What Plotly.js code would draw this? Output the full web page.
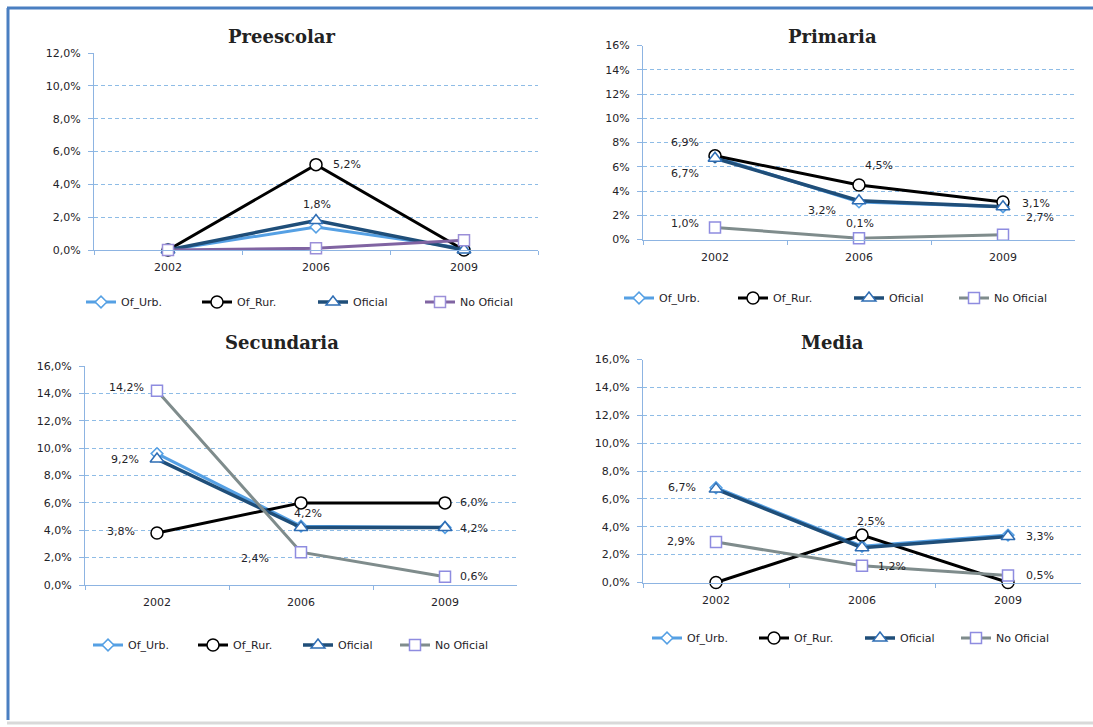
<!DOCTYPE html>
<html>
<head>
<meta charset="utf-8">
<script src="https://cdn.plot.ly/plotly-3.0.1.min.js"></script>
<style>
  html, body { margin: 0; padding: 0; background: #ffffff; }
  #chart { width: 1093px; height: 727px; }
</style>
</head>
<body>
<div id="chart"></div>
<script>
// Categories and series
const years = ['2002', '2006', '2009'];
const seriesNames = ['Of_Urb.', 'Of_Rur.', 'Oficial', 'No Oficial'];

// Preescolar (%)
const preescolarOfUrb = [0.0, 1.4, 0.1];
const preescolarOfRur = [0.0, 5.2, 0.0];
const preescolarOficial = [0.0, 1.8, 0.0];
const preescolarNoOficial = [0.0, 0.1, 0.6];

// Primaria (%)
const primariaOfUrb = [6.8, 3.1, 2.7];
const primariaOfRur = [6.9, 4.5, 3.1];
const primariaOficial = [6.7, 3.2, 2.7];
const primariaNoOficial = [1.0, 0.1, 0.4];

// Secundaria (%)
const secundariaOfUrb = [9.6, 4.3, 4.2];
const secundariaOfRur = [3.8, 6.0, 6.0];
const secundariaOficial = [9.2, 4.2, 4.2];
const secundariaNoOficial = [14.2, 2.4, 0.6];

// Media (%)
const mediaOfUrb = [6.8, 2.6, 3.4];
const mediaOfRur = [0.0, 3.4, 0.0];
const mediaOficial = [6.7, 2.5, 3.3];
const mediaNoOficial = [2.9, 1.2, 0.5];

// Y axis tick setup per panel
const preescolarTicks = { max: 12, step: 2, format: '.1f' };
const primariaTicks = { max: 16, step: 2, format: '.0f' };
const secundariaTicks = { max: 16, step: 2, format: '.1f' };
const mediaTicks = { max: 16, step: 2, format: '.1f' };

const W = 1093, H = 727;
const FONT = 'DejaVu Sans, Verdana, sans-serif';
const TEXT = '#1f2328';
const AXIS = '#8DB4E2';
const GRID = '#8EBCE6';

// Series styles (Of_Urb., Of_Rur., Oficial, No Oficial)
function seriesStyle(k, purple) {
  const s = [
    { line: { color: '#55A0E4', width: 3 },
      marker: { symbol: 'diamond', size: 9, color: '#ffffff', line: { color: '#55A0E4', width: 1.5 } } },
    { line: { color: '#000000', width: 3 },
      marker: { symbol: 'circle', size: 12, color: '#ffffff', line: { color: '#000000', width: 1.5 } } },
    { line: { color: '#1F4E79', width: 3.5 },
      marker: { symbol: 'triangle-up', size: 12, color: '#ffffff', line: { color: '#2E6DB4', width: 1.5 } } },
    { line: { color: purple ? '#8064A2' : '#7F8C8C', width: 3 },
      marker: { symbol: 'square', size: 11, color: '#ffffff', line: { color: purple ? '#9B8FD8' : '#8E8CE0', width: 1.5 } } }
  ];
  return s[k];
}

// Panels: plot box in pixels, legend placement and data-label offsets
const panels = [
  {
    title: 'Preescolar', ax: '', titlePos: [282, 37],
    series: [preescolarOfUrb, preescolarOfRur, preescolarOficial, preescolarNoOficial],
    ticks: preescolarTicks, purple: true,
    box: { x0: 94, x1: 538, yBottom: 250, yTop: 53 },
    legend: { left: 81, cy: 302, widths: [71, 71, 62, 60] },
    labels: [[1, 1, 31, 0], [2, 1, 1, 16]]
  },
  {
    title: 'Primaria', ax: '2', titlePos: [832, 37],
    series: [primariaOfUrb, primariaOfRur, primariaOficial, primariaNoOficial],
    ticks: primariaTicks, purple: false,
    box: { x0: 643, x1: 1075, yBottom: 239.5, yTop: 45.5 },
    legend: { left: 619, cy: 298, widths: [69, 71, 60, 60] },
    labels: [[1, 0, -30, 13], [2, 0, -30, -15], [1, 1, 20, 19], [2, 1, -37, -10],
             [3, 1, 1, 15], [3, 0, -30, 4], [1, 2, 33, -2], [2, 2, 37, -11]]
  },
  {
    title: 'Secundaria', ax: '3', titlePos: [282, 343],
    series: [secundariaOfUrb, secundariaOfRur, secundariaOficial, secundariaNoOficial],
    ticks: secundariaTicks, purple: false,
    box: { x0: 85, x1: 517, yBottom: 585, yTop: 366 },
    legend: { left: 88, cy: 645, widths: [60, 60, 52, 60] },
    labels: [[3, 0, -31, 3], [2, 0, -32, 0], [1, 0, -36, 1], [2, 1, 7, 14],
             [3, 1, -46, -6], [1, 2, 29, 0], [2, 2, 29, -1], [3, 2, 29, 0]]
  },
  {
    title: 'Media', ax: '4', titlePos: [832, 343],
    series: [mediaOfUrb, mediaOfRur, mediaOficial, mediaNoOficial],
    ticks: mediaTicks, purple: false,
    box: { x0: 643, x1: 1081, yBottom: 582.5, yTop: 359.5 },
    legend: { left: 647, cy: 638, widths: [62, 61, 51, 60] },
    labels: [[2, 0, -34, 2], [3, 0, -35, 1], [2, 1, 9, 26], [3, 1, 30, -1],
             [2, 2, 32, 0], [3, 2, 32, 0]]
  }
];

function fmtPct(v) {
  return v.toFixed(1).replace('.', ',') + '%';
}

const data = [];
const annotations = [];
const layout = {
  width: W, height: H,
  margin: { l: 0, r: 0, t: 0, b: 0 },
  paper_bgcolor: '#ffffff',
  plot_bgcolor: 'rgba(0,0,0,0)',
  separators: ',.',
  hovermode: false,
  font: { family: FONT, size: 11, color: TEXT },
  shapes: [
    // outer frame
    { type: 'line', xref: 'paper', yref: 'paper', x0: 8 / W, x1: 8 / W, y0: 1 - 8 / H, y1: 1 - 720 / H,
      line: { color: '#4A7FC1', width: 3 } },
    { type: 'line', xref: 'paper', yref: 'paper', x0: 7 / W, x1: 1, y0: 1 - 8 / H, y1: 1 - 8 / H,
      line: { color: '#4A7FC1', width: 3 } },
    { type: 'line', xref: 'paper', yref: 'paper', x0: 7 / W, x1: 1, y0: 1 - 723 / H, y1: 1 - 723 / H,
      line: { color: '#D9D9D9', width: 3 } }
  ],
  annotations: annotations
};

panels.forEach((p, pi) => {
  const xa = 'x' + p.ax, ya = 'y' + p.ax;
  const legendId = pi === 0 ? 'legend' : 'legend' + (pi + 1);

  layout['xaxis' + p.ax] = {
    domain: [p.box.x0 / W, p.box.x1 / W],
    anchor: ya,
    type: 'category',
    categoryorder: 'array', categoryarray: years,
    range: [-0.5, 2.5],
    showline: true, linecolor: AXIS, linewidth: 1,
    ticks: 'outside', tickson: 'boundaries', ticklen: 4, tickcolor: AXIS,
    ticklabelstandoff: 7,
    showgrid: false, zeroline: false, fixedrange: true,
    tickfont: { family: FONT, size: 11, color: TEXT }
  };
  layout['yaxis' + p.ax] = {
    domain: [1 - p.box.yBottom / H, 1 - p.box.yTop / H],
    anchor: xa,
    range: [0, p.ticks.max],
    tick0: 0, dtick: p.ticks.step,
    tickformat: p.ticks.format, ticksuffix: '%',
    showline: true, linecolor: AXIS, linewidth: 1,
    ticks: 'outside', ticklen: 5, tickcolor: AXIS,
    ticklabelstandoff: 5,
    showgrid: true, gridcolor: GRID, griddash: '4px,3px', gridwidth: 1,
    zeroline: false, fixedrange: true,
    tickfont: { family: FONT, size: 11, color: TEXT }
  };

  layout[legendId] = {
    orientation: 'h',
    x: p.legend.left / W, xanchor: 'left',
    y: 1 - p.legend.cy / H, yanchor: 'middle',
    bgcolor: 'rgba(0,0,0,0)', borderwidth: 0,
    font: { family: FONT, size: 11, color: TEXT },
    traceorder: 'normal'
  };

  p.series.forEach((vals, k) => {
    const st = seriesStyle(k, p.purple);
    data.push({
      type: 'scatter', mode: 'lines+markers',
      x: years, y: vals,
      xaxis: xa, yaxis: ya,
      name: seriesNames[k],
      legend: legendId,
      legendwidth: p.legend.widths[k],
      line: st.line, marker: st.marker,
      cliponaxis: false,
      hoverinfo: 'skip'
    });
  });

  // value labels, positioned relative to their points (x given as category index)
  p.labels.forEach(([k, i, dx, dy]) => {
    const v = p.series[k][i];
    annotations.push({
      xref: xa, yref: ya, x: i, y: v,
      text: fmtPct(v), showarrow: false,
      xanchor: 'center', yanchor: 'middle',
      xshift: dx, yshift: dy,
      font: { family: FONT, size: 11, color: TEXT }
    });
  });

  // panel title
  annotations.push({
    xref: 'paper', yref: 'paper',
    x: p.titlePos[0] / W, y: 1 - p.titlePos[1] / H,
    xanchor: 'center', yanchor: 'middle',
    text: p.title, showarrow: false,
    font: { family: 'DejaVu Serif, serif', size: 18, color: '#222222', weight: 700 }
  });
});

Plotly.newPlot('chart', data, layout, { staticPlot: true, displayModeBar: false });
</script>
</body>
</html>
